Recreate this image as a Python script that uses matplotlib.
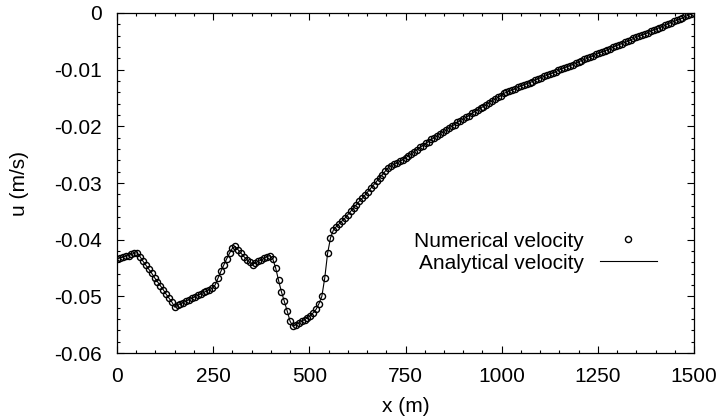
import numpy as np
import matplotlib.pyplot as plt

plt.rcParams['font.family'] = ['Liberation Sans', 'DejaVu Sans']
plt.rcParams['axes.unicode_minus'] = False

# velocity samples along the channel, 7.5 m spacing from 0 to 1500 m
u_num = [
    -0.0434, -0.0432, -0.0431, -0.0429, -0.0428, -0.0426, -0.0424, -0.0423,
    -0.0430, -0.0438, -0.0445, -0.0452, -0.0459, -0.0467, -0.0474, -0.0481,
    -0.0488, -0.0496, -0.0503, -0.0510, -0.0519, -0.0516, -0.0513, -0.0511,
    -0.0508, -0.0506, -0.0503, -0.0501, -0.0498, -0.0496, -0.0493, -0.0491,
    -0.0488, -0.0486, -0.0480, -0.0468, -0.0456, -0.0445, -0.0434, -0.0424,
    -0.0415, -0.0412, -0.0418, -0.0424, -0.0430, -0.0435, -0.0440, -0.0444,
    -0.0441, -0.0438, -0.0436, -0.0433, -0.0430, -0.0428, -0.0434, -0.0450,
    -0.0472, -0.0492, -0.0509, -0.0526, -0.0544, -0.0553, -0.0550, -0.0547,
    -0.0544, -0.0541, -0.0538, -0.0534, -0.0529, -0.0523, -0.0513, -0.0500,
    -0.0468, -0.0424, -0.0397, -0.0383, -0.0377, -0.0372, -0.0367, -0.0362,
    -0.0356, -0.0350, -0.0344, -0.0338, -0.0332, -0.0327, -0.0321, -0.0315,
    -0.0309, -0.0303, -0.0297, -0.0291, -0.0285, -0.0279, -0.0273, -0.0270,
    -0.0267, -0.0265, -0.0262, -0.0259, -0.0256, -0.0252, -0.0249, -0.0245,
    -0.0241, -0.0237, -0.0234, -0.0230, -0.0227, -0.0223, -0.0220, -0.0217,
    -0.0213, -0.0210, -0.0207, -0.0203, -0.0200, -0.0197, -0.0193, -0.0190,
    -0.0187, -0.0184, -0.0181, -0.0177, -0.0174, -0.0171, -0.0168, -0.0165,
    -0.0162, -0.0158, -0.0155, -0.0152, -0.0149, -0.0146, -0.0142, -0.0140,
    -0.0138, -0.0136, -0.0134, -0.0131, -0.0129, -0.0127, -0.0125, -0.0123,
    -0.0121, -0.0118, -0.0116, -0.0114, -0.0112, -0.0110, -0.0108, -0.0106,
    -0.0104, -0.0101, -0.0099, -0.0097, -0.0095, -0.0093, -0.0091, -0.0089,
    -0.0086, -0.0084, -0.0082, -0.0080, -0.0078, -0.0076, -0.0073, -0.0071,
    -0.0069, -0.0067, -0.0065, -0.0063, -0.0060, -0.0058, -0.0056, -0.0054,
    -0.0052, -0.0050, -0.0048, -0.0045, -0.0043, -0.0041, -0.0039, -0.0037,
    -0.0035, -0.0032, -0.0030, -0.0028, -0.0026, -0.0024, -0.0022, -0.0019,
    -0.0017, -0.0015, -0.0013, -0.0011, -0.0009, -0.0006, -0.0004, -0.0002,
    0.0,
]
x = np.linspace(0, 1500, len(u_num))
u_ana = u_num  # analytical solution coincides with the computed one

xticks = [0, 250, 500, 750, 1000, 1250, 1500]
yticks = [-0.06, -0.05, -0.04, -0.03, -0.02, -0.01, 0]
yticklabels = ['-0.06', '-0.05', '-0.04', '-0.03', '-0.02', '-0.01', '0']

fs = 15

fig = plt.figure(figsize=(7.2, 4.18), dpi=100)
ax = fig.add_axes([0.1625, 0.1555, 0.8014, 0.8134])

ax.plot(x, u_num, 'o', ms=4.4, mfc='none', mec='black', mew=1.0,
        label='Numerical velocity')
ax.plot(x, u_ana, '-', color='black', lw=0.8, label='Analytical velocity')

ax.set_xlim(0, 1500)
ax.set_ylim(-0.06, 0)
ax.set_xticks(xticks)
ax.set_xticklabels([str(t) for t in xticks])
ax.set_yticks(yticks)
ax.set_yticklabels(yticklabels)
ax.set_xticks(np.arange(0, 1501, 50), minor=True)
ax.set_yticks(np.arange(-0.06, 0.0001, 0.002), minor=True)

ax.tick_params(which='both', direction='in', top=True, right=True,
               labelsize=fs, width=0.8)
ax.tick_params(which='major', length=5)
ax.tick_params(which='minor', length=2.5)
ax.tick_params(axis='x', pad=10)
ax.tick_params(axis='y', pad=11)
for s in ax.spines.values():
    s.set_linewidth(0.9)

ax.set_xlabel('x (m)', fontsize=fs, labelpad=8)
ax.set_ylabel('u (m/s)', fontsize=fs, labelpad=18)

ax.legend(loc='upper right', bbox_to_anchor=(0.936, 0.357), frameon=False,
          markerfirst=False, numpoints=1, fontsize=fs, handlelength=2.75,
          handletextpad=0.75, labelspacing=0.15, borderpad=0, borderaxespad=0)

fig.savefig('out.png', dpi=100)
